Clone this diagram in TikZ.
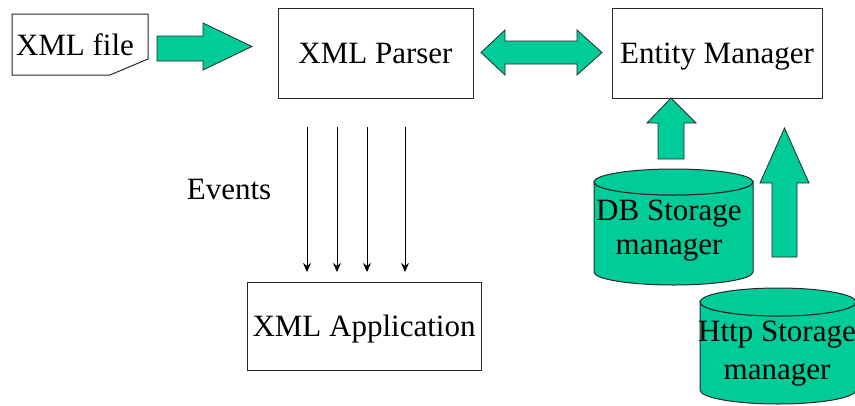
\documentclass[tikz,border=0pt]{standalone}
\usepackage{fontspec}
\setmainfont{Liberation Serif}
\usetikzlibrary{arrows.meta}
\definecolor{tealgreen}{RGB}{0,204,153}
\definecolor{edge}{RGB}{40,40,40}
\tikzset{
  box/.style={draw=edge, line width=1pt, fill=white, inner sep=0pt, text height=24pt, text depth=4pt, font=\fontsize{31}{34}\selectfont},
  label/.style={inner sep=0pt, font=\fontsize{31}{34}\selectfont, align=center},
  block/.style={draw=edge, line width=0.8pt, fill=tealgreen, line join=miter},
  event/.style={draw=black, line width=0.9pt, -{Stealth[length=9pt,width=8pt]}},
  cyl/.style={draw=edge, line width=1pt, fill=tealgreen}
}
\begin{document}
\begin{tikzpicture}[x=1pt,y=-1pt]
\useasboundingbox (0,0) rectangle (855,405);
% XML file (document shape)
\draw[draw=edge, line width=1pt, fill=white] (12,14) -- (148,14) -- (148,59) -- (110,75) -- (12,75) -- cycle;
\node[label] (file) at (75,45) {XML file};
% boxes
\node[box, minimum width=195pt, minimum height=90pt] (parser) at (375.5,53) {XML Parser};
\node[box, minimum width=210pt, minimum height=90pt] (entity) at (717,53) {Entity Manager};
\node[box, minimum width=234pt, minimum height=88pt] (app) at (364,326) {XML Application};
% right arrow file -> parser
\draw[block] (157,36) -- (203,36) -- (203,23) -- (252,46.5) -- (203,70) -- (203,61) -- (157,61) -- cycle;
% double arrow parser <-> entity
\draw[block] (481,52.5) -- (505,30) -- (505,41) -- (577,41) -- (577,30) -- (602,52.5) -- (577,75) -- (577,64) -- (505,64) -- (505,75) -- cycle;
% events
\coordinate (e1a) at (307,127); \coordinate (e1b) at (307,272);
\coordinate (e2a) at (337,127); \coordinate (e2b) at (337,272);
\coordinate (e3a) at (367,127); \coordinate (e3b) at (367,272);
\coordinate (e4a) at (405,127); \coordinate (e4b) at (405,272);
\draw[event] (e1a) -- (e1b);
\draw[event] (e2a) -- (e2b);
\draw[event] (e3a) -- (e3b);
\draw[event] (e4a) -- (e4b);
\node[label] (events) at (229,189) {Events};
% DB cylinder
\draw[cyl] (594,182) -- (594,272) arc[start angle=180, end angle=360, x radius=79.5pt, y radius=13pt] -- (753,182) arc[start angle=0, end angle=-180, x radius=79.5pt, y radius=13pt] -- cycle;
\draw[cyl] (673.5,182) ellipse[x radius=79.5pt, y radius=13pt];
\node[label] (db) at (669,231) {DB Storage\\manager};
% Http cylinder
\draw[cyl] (700,302) -- (700,390) arc[start angle=180, end angle=360, x radius=78pt, y radius=14pt] -- (856,302) arc[start angle=0, end angle=-180, x radius=78pt, y radius=14pt] -- cycle;
\draw[cyl] (778,302) ellipse[x radius=78pt, y radius=14pt];
\node[label] (http) at (777,354) {Http Storage\\[4pt]manager};
% up arrows
\draw[block] (658,159) -- (658,123) -- (647,123) -- (671,98) -- (696,123) -- (684,123) -- (684,159) -- cycle;
\draw[block] (772,257) -- (772,183) -- (760,183) -- (784.5,128) -- (809,183) -- (797,183) -- (797,257) -- cycle;
\end{tikzpicture}
\end{document}
